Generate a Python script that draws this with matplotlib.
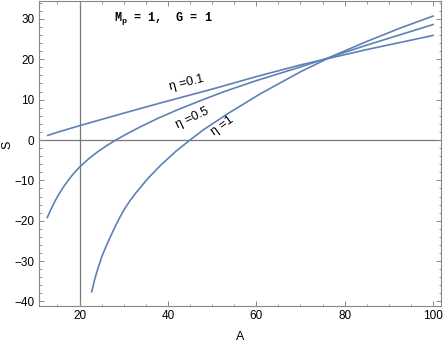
#!/usr/bin/env python3
# S vs A for three values of eta (Mathematica-style frame plot)
import matplotlib
matplotlib.use('Agg')
import matplotlib.pyplot as plt
from matplotlib.ticker import MultipleLocator

# values
A_01 = [12.8, 16.0, 20.0, 25.0, 30.0, 38.4, 50.0, 60.0, 70.0, 85.0, 100.0]
S_01 = [1.15, 2.25, 3.55, 5.1, 6.65, 9.2, 12.6, 15.7, 18.6, 22.4, 25.9]

A_05 = [12.7, 13.5, 14.5, 15.5, 16.5, 17.5, 18.5, 20.0, 22.0, 24.0, 26.0, 28.2,
        31.0, 34.0, 38.0, 42.0, 47.0, 53.0, 60.0, 70.0, 85.0, 100.0]
S_05 = [-19.2, -17.2, -15.0, -13.1, -11.4, -9.9, -8.5, -6.7, -4.7, -3.0, -1.5, 0.0,
        1.7, 3.4, 5.5, 7.4, 9.6, 12.1, 14.7, 18.1, 23.5, 28.6]

A_1 = [22.75, 23.4, 24.1, 25.0, 26.0, 27.9, 29.0, 30.1, 31.4, 32.75, 35.4, 38.4, 41.8,
       45.0, 48.0, 53.5, 61.0, 70.0, 77.5, 85.0, 92.5, 100.0]
S_1 = [-37.6, -34.6, -32.0, -29.0, -26.3, -21.8, -19.4, -17.2, -15.05, -13.1, -9.6, -6.2, -2.8,
       0.0, 2.5, 6.5, 11.5, 16.9, 20.9, 24.4, 27.7, 30.7]

line_color = '#5E81B5'
frame_color = '#888888'

plt.rcParams['font.family'] = ['Liberation Sans', 'DejaVu Sans']
plt.rcParams['mathtext.fontset'] = 'custom'
plt.rcParams['mathtext.tt'] = 'Liberation Mono:bold'

fig = plt.figure(figsize=(4.43, 3.46), dpi=100)
ax = fig.add_axes([0.0874, 0.1147, 0.908, 0.882])

ax.plot(A_01, S_01, color=line_color, lw=1.2)
ax.plot(A_05, S_05, color=line_color, lw=1.2)
ax.plot(A_1, S_1, color=line_color, lw=1.2)

# axes lines through (20, 0)
ax.axvline(20, color='#777777', lw=0.9, zorder=0)
ax.axhline(0, color='#777777', lw=0.9, zorder=0)

ax.set_xlim(10.75, 101.8)
ax.set_ylim(-41.2, 34.4)

ax.xaxis.set_major_locator(MultipleLocator(20))
ax.xaxis.set_minor_locator(MultipleLocator(5))
ax.yaxis.set_major_locator(MultipleLocator(10))
ax.yaxis.set_minor_locator(MultipleLocator(2))
ax.tick_params(which='both', direction='in', top=True, right=True,
               color=frame_color, labelsize=8.5, pad=3)
ax.tick_params(which='major', length=3.5, width=0.7)
ax.tick_params(which='minor', length=1.8, width=0.6)
for sp in ax.spines.values():
    sp.set_color(frame_color)
    sp.set_linewidth(0.8)

ax.set_xlabel('A', fontsize=9, labelpad=6)
# y label placed by hand, it sits right at the left edge
fig.text(7 / 443, 1 - 145 / 346, 'S', fontsize=9, rotation=90, ha='center', va='center')

# curve labels
ax.text(44.3, 14.2, 'η =0.1', fontsize=9, rotation=14, ha='center', va='center')
ax.text(45.6, 5.5, 'η =0.5', fontsize=9, rotation=25, ha='center', va='center')
ax.text(52.4, 3.5, 'η =1', fontsize=9, rotation=36, ha='center', va='center')

ax.text(27.8, 30.2, '$\\mathtt{M_p}$ = 1,  G = 1', fontsize=8.5, fontweight='bold',
        family='Liberation Mono', ha='left', va='center')

fig.savefig('out.png', dpi=100)
